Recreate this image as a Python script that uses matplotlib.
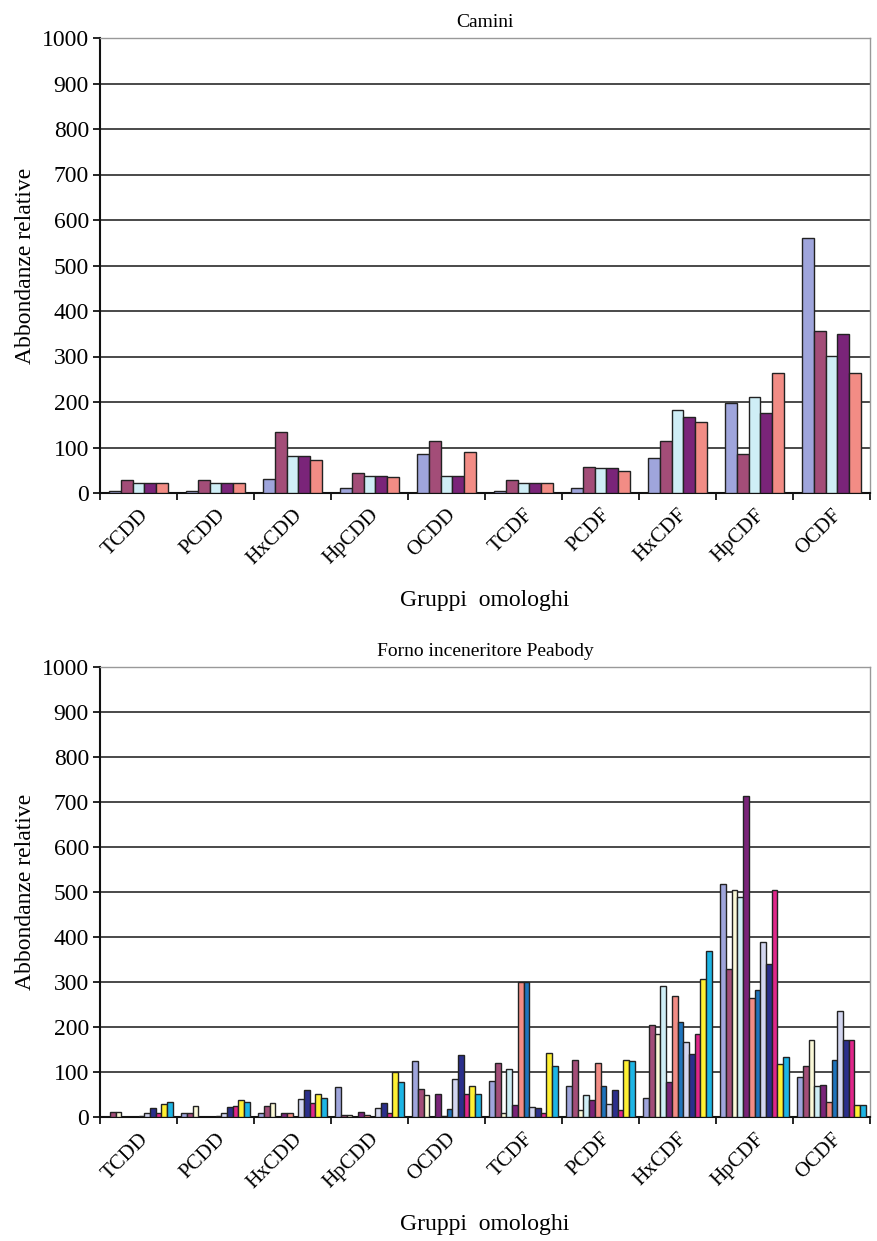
import matplotlib
matplotlib.use("Agg")
import matplotlib.pyplot as plt
import numpy as np

groups = ["TCDD", "PCDD", "HxCDD", "HpCDD", "OCDD", "TCDF", "PCDF", "HxCDF", "HpCDF", "OCDF"]

# Top chart: Camini (5 series)
camini_s1 = [5, 5, 30, 12, 85, 5, 12, 78, 198, 560]
camini_s2 = [28, 28, 133, 45, 115, 28, 58, 115, 85, 355]
camini_s3 = [22, 22, 82, 38, 38, 22, 55, 183, 210, 302]
camini_s4 = [22, 22, 82, 38, 38, 22, 55, 168, 175, 350]
camini_s5 = [22, 22, 72, 35, 90, 22, 48, 157, 263, 263]
camini = [camini_s1, camini_s2, camini_s3, camini_s4, camini_s5]
camini_colors = ["#9FA5DC", "#A34D78", "#CFEEF6", "#7A2479", "#F28C85"]

# Bottom chart: Forno inceneritore Peabody (12 series)
pea_s1 = [0, 10, 10, 67, 124, 81, 70, 43, 517, 88]
pea_s2 = [12, 10, 24, 5, 62, 119, 127, 205, 328, 113]
pea_s3 = [12, 25, 32, 5, 50, 8, 15, 185, 505, 172]
pea_s4 = [0, 0, 0, 0, 0, 106, 50, 292, 490, 68]
pea_s5 = [0, 0, 8, 12, 52, 27, 38, 78, 713, 72]
pea_s6 = [0, 0, 8, 5, 3, 300, 120, 269, 264, 33]
pea_s7 = [3, 3, 0, 0, 18, 300, 70, 211, 282, 127]
pea_s8 = [10, 10, 39, 20, 85, 22, 30, 167, 390, 236]
pea_s9 = [21, 22, 59, 32, 138, 19, 60, 139, 341, 172]
pea_s10 = [10, 25, 32, 8, 52, 9, 15, 185, 505, 172]
pea_s11 = [28, 38, 52, 100, 69, 143, 127, 307, 118, 26]
pea_s12 = [34, 33, 42, 78, 52, 113, 125, 369, 133, 26]
peabody = [pea_s1, pea_s2, pea_s3, pea_s4, pea_s5, pea_s6,
           pea_s7, pea_s8, pea_s9, pea_s10, pea_s11, pea_s12]
peabody_colors = ["#9FA5DC", "#A34D78", "#FBF9D8", "#CFEEF6", "#7A2479", "#F28C85",
                  "#1F74BC", "#D3D6F0", "#2B2F8C", "#E0268A", "#FFF033", "#1DB5E5"]

titles = ["Camini", "Forno inceneritore Peabody"]
ylabel = "Abbondanze relative"
xlabel = "Gruppi  omologhi"
yticks = list(range(0, 1001, 100))

plt.rcParams['font.family'] = ['Liberation Serif', 'DejaVu Serif']

fig = plt.figure(figsize=(8.77, 12.41), dpi=100)
ax1 = fig.add_axes([100/877, 1-493/1241, 770/877, (493-38)/1241])
ax2 = fig.add_axes([100/877, 1-1117/1241, 770/877, (1117-667)/1241])


def draw(ax, series, colors, title):
    n = len(series)
    w = 1.0 / (n + 1.5)
    x = np.arange(len(groups))
    for i, (vals, c) in enumerate(zip(series, colors)):
        off = (i - (n - 1) / 2) * w
        ax.bar(x + off, vals, width=w, color=c, edgecolor="#222222", linewidth=1.0, zorder=3)
    ax.set_xlim(-0.5, len(groups) - 0.5)
    ax.set_ylim(0, 1000)
    ax.set_yticks(yticks)
    ax.set_yticklabels([str(t) for t in yticks], fontsize=17)
    ax.yaxis.grid(True, color="#3a3a3a", linewidth=1.3, zorder=0)
    ax.set_axisbelow(True)
    ax.set_xticks(x)
    ax.set_xticklabels(groups, rotation=45, ha="right", rotation_mode="anchor", fontsize=15)
    ax.set_xticks(np.arange(-0.5, len(groups)), minor=True)
    ax.tick_params(axis="x", which="major", length=0, pad=9)
    ax.tick_params(axis="x", which="minor", length=5, width=1.2, direction="out")
    ax.tick_params(axis="y", length=5, width=1.2, direction="out", pad=3)
    for s in ["top", "right"]:
        ax.spines[s].set_color("#999999")
        ax.spines[s].set_linewidth(1.0)
    for s in ["left", "bottom"]:
        ax.spines[s].set_color("#111111")
        ax.spines[s].set_linewidth(1.5)
    ax.set_ylabel(ylabel, fontsize=17, labelpad=4)
    ax.set_xlabel(xlabel, fontsize=17, labelpad=16)
    ax.set_title(title, fontsize=14, pad=8)


draw(ax1, camini, camini_colors, titles[0])
draw(ax2, peabody, peabody_colors, titles[1])

fig.savefig("out.png", dpi=100, facecolor="white")
